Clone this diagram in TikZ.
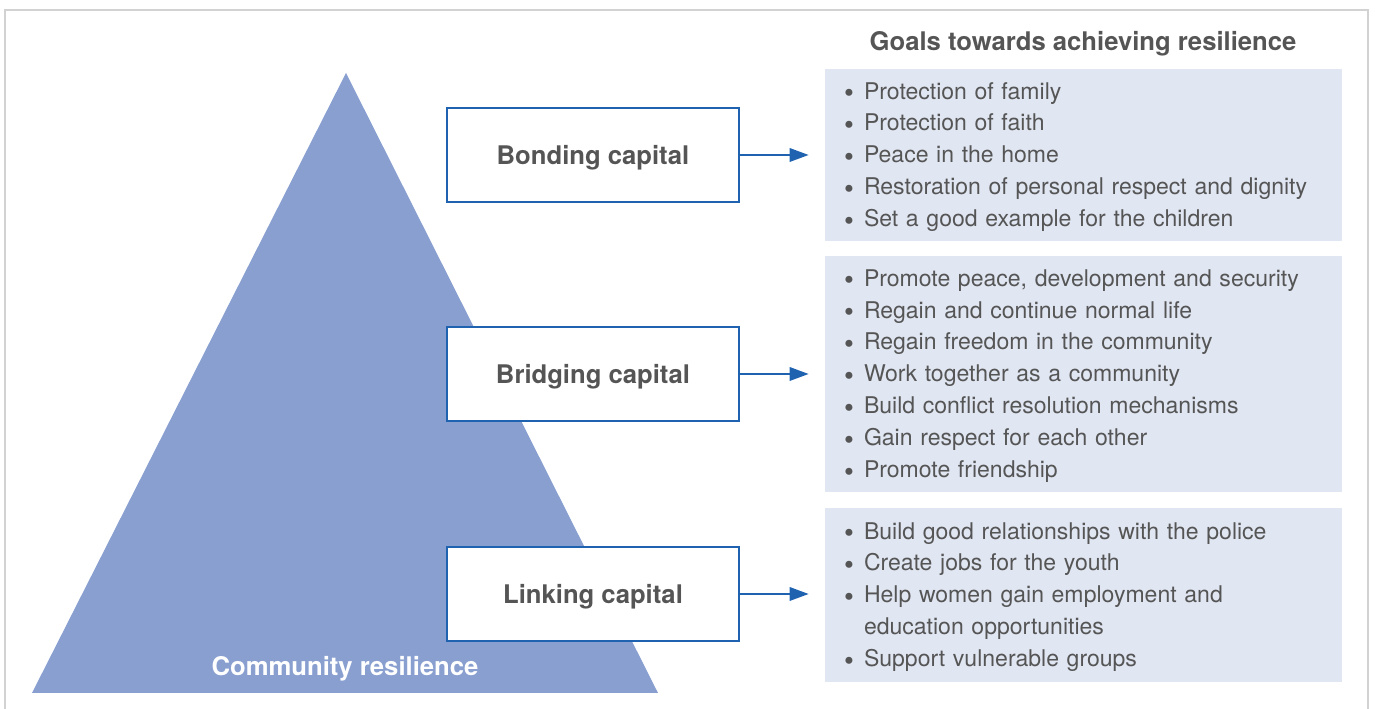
\documentclass[tikz,border=0pt]{standalone}
\usepackage{fontspec}
\setmainfont{TeX Gyre Heros}
\usepackage{xcolor}
\definecolor{PyramidBlue}{HTML}{889FD0}
\definecolor{LineBlue}{HTML}{1F62B0}
\definecolor{GoalFill}{HTML}{E0E6F2}
\definecolor{TextGrey}{HTML}{555555}
\definecolor{FrameGrey}{HTML}{D2D2D2}
\usepackage{tikz}
\usetikzlibrary{arrows.meta,positioning,calc}

% one bulleted goal per line
\newcommand{\goal}[1]{\makebox[0.40cm][l]{\fontsize{16}{16}\selectfont\raisebox{-0.25ex}{\textbullet}}#1}

\begin{document}
\begin{tikzpicture}[every node/.style={font=\fontsize{13.1}{18.2}\selectfont, text=TextGrey}]
\tikzset{heading/.style={font=\fontsize{14.6}{17}\selectfont\bfseries, text depth=0pt}}
\tikzset{capbox/.style={heading, draw=LineBlue, line width=1.3pt, fill=white, minimum width=5.84cm, minimum height=1.88cm}}
\tikzset{goalbox/.style={fill=GoalFill, minimum width=10.34cm, text width=9.58cm, text height=0.42cm, inner xsep=0.38cm, inner ysep=0pt, align=left}}
\tikzset{arrow/.style={-{Triangle[length=0.38cm, width=0.27cm]}, draw=LineBlue, line width=1.1pt, shorten >=0.32cm}}
\useasboundingbox (0,0) rectangle (27.5,14.18);
% outer frame, open at the bottom
\draw[FrameGrey, line width=1.1pt] (0.1,-0.3) -- (0.1,13.98) -- (27.36,13.98) -- (27.36,-0.3);
% pyramid
\fill[PyramidBlue] (0.64,0.32) -- (6.92,12.72) -- (13.16,0.32) -- cycle;
\node[heading, text=white] (base) at (6.9,0.86) {Community resilience};
% the three kinds of capital
\node[capbox] (bonding) at (11.86,11.08) {Bonding capital};
\node[capbox] (bridging) at (11.86,6.70) {Bridging capital};
\node[capbox] (linking) at (11.86,2.30) {Linking capital};
% goals for each of them
\node[heading] (title) at (21.66,13.36) {Goals towards achieving resilience};
\node[goalbox, minimum height=3.44cm] (bondgoals) at (21.67,11.08) {\goal{Protection of family}\\
  \goal{Protection of faith}\\
  \goal{Peace in the home}\\
  \goal{Restoration of personal respect and dignity}\\
  \goal{Set a good example for the children}};
\node[goalbox, minimum height=4.72cm] (bridgegoals) at (21.67,6.70) {\goal{Promote peace, development and security}\\
  \goal{Regain and continue normal life}\\
  \goal{Regain freedom in the community}\\
  \goal{Work together as a community}\\
  \goal{Build conflict resolution mechanisms}\\
  \goal{Gain respect for each other}\\
  \goal{Promote friendship}};
\node[goalbox, minimum height=3.48cm] (linkgoals) at (21.67,2.28) {\goal{Build good relationships with the police}\\
  \goal{Create jobs for the youth}\\
  \goal{Help women gain employment and}\\
  \hspace*{0.40cm}education opportunities\\
  \goal{Support vulnerable groups}};
\draw[arrow] (bonding.east) -- (bonding.east -| bondgoals.west);
\draw[arrow] (bridging.east) -- (bridging.east -| bridgegoals.west);
\draw[arrow] (linking.east) -- (linking.east -| linkgoals.west);
\end{tikzpicture}
\end{document}
